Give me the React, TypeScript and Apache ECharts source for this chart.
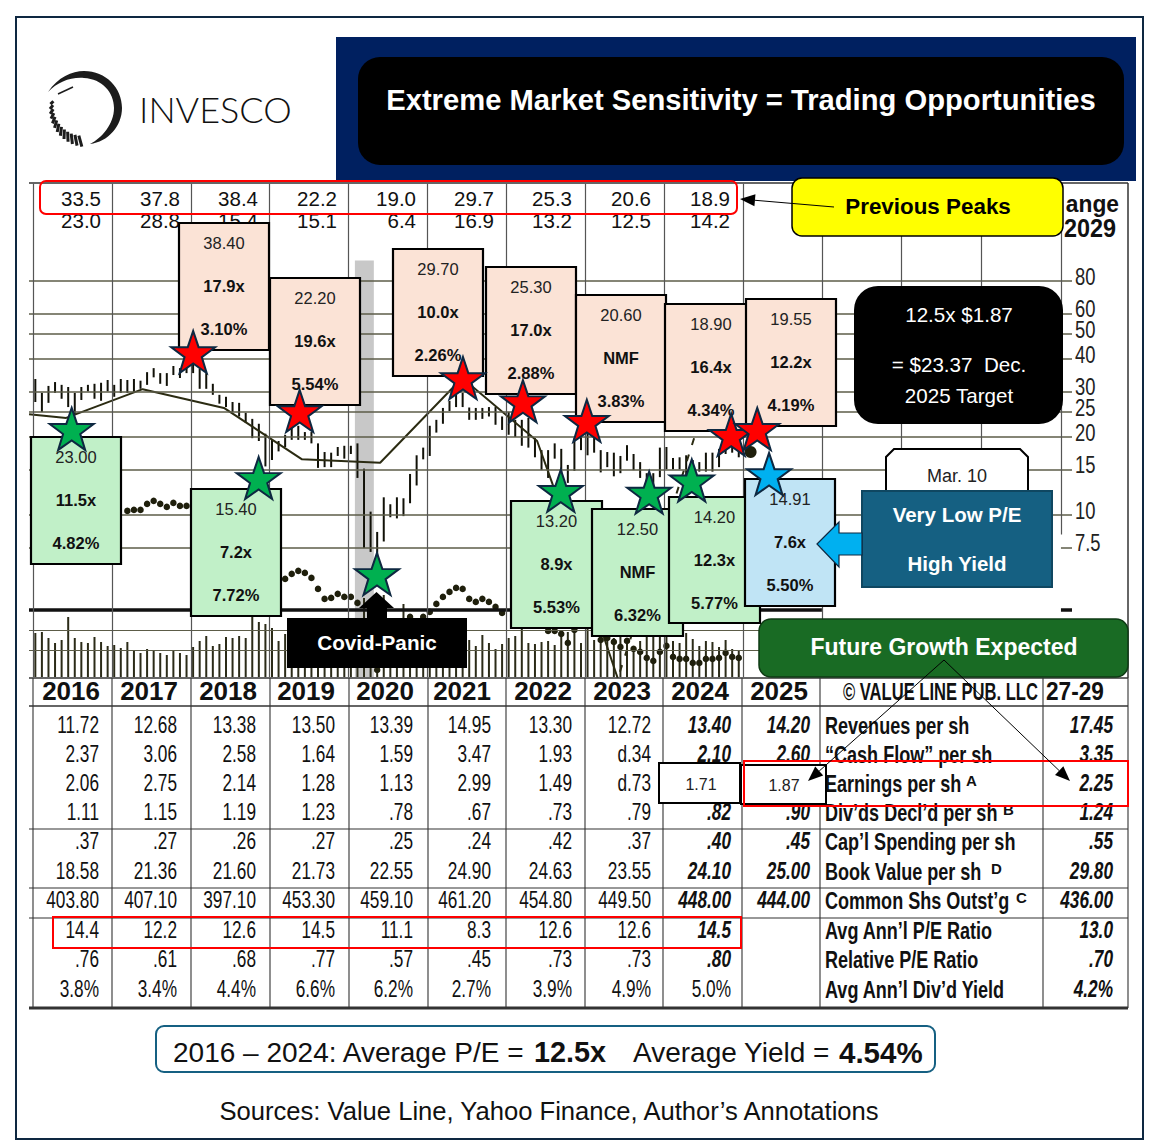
import React, { useEffect, useRef } from "react";
import * as echarts from "echarts";

// ---------- chart data ----------
const peakHighs = ["33.5", "37.8", "38.4", "22.2", "19.0", "29.7", "25.3", "20.6", "18.9"];
const peakLows = ["23.0", "28.8", "15.4", "15.1", "6.4", "16.9", "13.2", "12.5", "14.2"];
const axisLevels = [80, 60, 50, 40, 30, 25, 20, 15, 10];
const axisTickLabels = ["80", "60", "50", "40", "30", "25", "20", "15", "10", "7.5"];

// monthly high / low bars, Jan 2016 onward
const priceHigh = [
  33.5, 29.6, 31.5, 32.6, 31.8, 31.2, 29.6, 31.2, 31.8, 32.1, 32.4, 33.2,
  31.8, 33.5, 33.2, 33.5, 33, 35.6, 36.9, 35.3, 35.3, 37.6, 36.9, 38.3,
  38.6, 36.7, 35.3, 32.1, 29.1, 28.6, 27.3, 27.1, 24.8, 23.5, 22.5, 20.6,
  19.5, 19.3, 20.4, 22.1, 22.1, 20.9, 20.9, 18.9, 17.5, 17.4, 18.3, 18.5,
  18.5, 18.9, 15.1, 10.3, 8.6, 11.7, 11, 11.7, 11.6, 14.4, 17, 18.2,
  22.1, 23.3, 25.9, 27.6, 29.1, 29.6, 26, 25.9, 25.9, 26.1, 26.1, 24,
  25, 23.3, 23.3, 23.7, 19.8, 17.8, 17.8, 18.9, 18, 15.6, 19.8, 20.2,
  20.8, 20.4, 17.8, 17.5, 17.4, 16.9, 18.6, 17.2, 16, 14.5, 14.5, 18.2,
  18.3, 16.6, 16.7, 17, 16.3, 16, 17.4, 17.4, 18, 18.2, 18.3, 17.8,
];
const priceLow = [
  27.3, 25, 27.1, 29.6, 28.1, 26.1, 24.3, 27.8, 30, 28.1, 27.6, 30,
  28.6, 29.6, 29.6, 29.6, 30.7, 31.8, 34, 32.1, 31.5, 34.7, 33.8, 35.3,
  35.3, 30.7, 30.7, 29.1, 26.9, 26.1, 25, 24, 22.7, 19.8, 19.3, 15.4,
  16.3, 17.6, 18.3, 19.5, 19.5, 19.5, 18.9, 15.2, 15.3, 15.3, 16.9, 16.5,
  17.2, 13.9, 7.45, 7.2, 6.4, 7.9, 9.8, 9.7, 9.9, 11.1, 13, 16.4,
  16.9, 20.8, 22.5, 25.2, 26.1, 26.1, 23.3, 23.3, 23.5, 24, 22.3, 21.3,
  20.4, 20, 18.5, 18.2, 16.7, 14.9, 13.9, 16.5, 13.9, 13.3, 14.8, 17.8,
  17, 17.4, 14.6, 15.3, 14.1, 14.5, 16.2, 14.9, 13.9, 12.8, 12.5, 14,
  15, 15, 15, 14, 14.5, 14.7, 14.7, 14.7, 15.3, 17.2, 17.4, 16.7,
];
const volumePct = [
  8.8, 9, 7.8, 6.8, 7.4, 12, 7.8, 7, 6.8, 8, 7, 6.2,
  6.4, 5.8, 7, 5.2, 4.8, 5.6, 5.2, 4.8, 4.4, 5.4, 4.8, 4.4,
  6, 7.2, 8.2, 6.2, 6.6, 8, 7.8, 8.2, 7.8, 12, 11, 10.6,
  9.8, 7.2, 8.6, 8, 7.5, 7, 7.5, 8, 7, 7.5, 7, 6.5,
  7, 8, 15.8, 12, 10, 16.4, 9, 9, 14.6, 11.4, 8.4, 11.8,
  8, 8.5, 7.5, 7, 7.5, 7, 7.4, 6.2, 8.4, 6.8, 5.6, 6.6,
  7.8, 8.2, 9.8, 6.8, 6.6, 7, 7.2, 6.4, 8.6, 9, 9.4, 6.8,
  10.4, 7.4, 7.8, 8, 7.8, 8, 7.8, 6.2, 7.2, 8.2, 8, 8.4,
  8.4, 7.2, 6.8, 8.8, 7.6, 6.2, 7.2, 7, 6, 7.4, 5.6, 5.4,
];
// relative price strength: [month index, index level]
const relStrength = [
  [14, 166], [15, 167], [16, 167], [17, 173], [18, 176], [19, 173], [20, 170], [21, 174], [22, 171], [23, 171],
  [38, 98], [39, 103], [40, 106], [41, 104], [42, 99], [43, 88], [44, 78], [45, 79], [46, 83], [47, 80], [48, 80], [49, 74],
  [52, 7], [57, 60], [59, 60], [60, 65], [61, 73], [62, 80], [63, 85], [64, 89], [65, 88], [66, 78], [67, 75], [68, 78], [69, 75], [70, 70], [71, 64],
  [78, 46], [79, 46], [80, 43], [81, 34], [82, 47],
  [86, 37], [87, 39], [88, 35], [89, 30], [90, 36], [91, 28], [92, 25], [93, 19], [94, 16], [95, 25], [96, 31], [97, 20], [98, 18], [99, 18],
  [100, 14], [101, 14], [102, 18], [103, 18], [104, 19], [105, 24], [106, 20], [107, 19],
];
const valueLine = [
  [2015.95, 24.5], [2016.42, 23.7], [2017.39, 30.6], [2018.42, 25.9], [2019.41, 16.4], [2020.4, 15.9],
  [2021.44, 33.8], [2022.39, 19.3], [2022.58, 13.3], [2023.42, 2.3],
];
const valueLineProjected = [[2023.44, 2.48], [2024.38, 19.8]];
const currentPrice = [[2025.096, 17.5]];
const redStars = [[2018.03, 42.6], [2019.38, 25.2], [2021.45, 33.8], [2022.21, 27.5], [2023.02, 23.1], [2024.85, 20.4], [2025.18, 21.5]];
const greenStars = [[2016.49, 21.5], [2018.86, 13.9], [2020.36, 5.92], [2022.69, 12.4], [2023.81, 12.2], [2024.35, 13.6]];
const blueStars = [[2025.33, 14.4]];

// ---------- annotation boxes ----------
const boxPrices = ["23.00", "38.40", "15.40", "22.20", "29.70", "25.30", "13.20", "20.60", "12.50", "18.90", "19.55", "14.20", "14.91"];
const boxMultiples = ["11.5x", "17.9x", "7.2x", "19.6x", "10.0x", "17.0x", "8.9x", "NMF", "NMF", "16.4x", "12.2x", "12.3x", "7.6x"];
const boxYields = ["4.82%", "3.10%", "7.72%", "5.54%", "2.26%", "2.88%", "5.53%", "3.83%", "6.32%", "4.34%", "4.19%", "5.77%", "5.50%"];
const boxKinds = ["g", "p", "g", "p", "p", "p", "g", "p", "g", "p", "p", "g", "b"];

// ---------- table ----------
const years = ["2016", "2017", "2018", "2019", "2020", "2021", "2022", "2023", "2024", "2025"];
const revenues = ["11.72", "12.68", "13.38", "13.50", "13.39", "14.95", "13.30", "12.72", "13.40", "14.20", "17.45"];
const cashFlow = ["2.37", "3.06", "2.58", "1.64", "1.59", "3.47", "1.93", "d.34", "2.10", "2.60", "3.35"];
const earnings = ["2.06", "2.75", "2.14", "1.28", "1.13", "2.99", "1.49", "d.73", "", "", "2.25"];
const dividends = ["1.11", "1.15", "1.19", "1.23", ".78", ".67", ".73", ".79", ".82", ".90", "1.24"];
const capSpending = [".37", ".27", ".26", ".27", ".25", ".24", ".42", ".37", ".40", ".45", ".55"];
const bookValue = ["18.58", "21.36", "21.60", "21.73", "22.55", "24.90", "24.63", "23.55", "24.10", "25.00", "29.80"];
const shares = ["403.80", "407.10", "397.10", "453.30", "459.10", "461.20", "454.80", "449.50", "448.00", "444.00", "436.00"];
const avgPE = ["14.4", "12.2", "12.6", "14.5", "11.1", "8.3", "12.6", "12.6", "14.5", "", "13.0"];
const relPE = [".76", ".61", ".68", ".77", ".57", ".45", ".73", ".73", ".80", "", ".70"];
const divYield = ["3.8%", "3.4%", "4.4%", "6.6%", "6.2%", "2.7%", "3.9%", "4.9%", "5.0%", "", "4.2%"];
const rowLabels = ["Revenues per sh", "“Cash Flow” per sh", "Earnings per sh", "Div’ds Decl’d per sh", "Cap’l Spending per sh", "Book Value per sh", "Common Shs Outst’g", "Avg Ann’l P/E Ratio", "Relative P/E Ratio", "Avg Ann’l Div’d Yield"];
const rowNotes = ["", "", "A", "B", "", "D", "C", "", "", ""];

// ---------- layout ----------
const SANS = '"Liberation Sans", Arial, sans-serif';
const peakRight = [101, 180, 258, 337, 416, 494, 572, 651, 730];
const boxRects = [
  [31, 437, 121, 564], [179, 223, 269, 350], [191, 489, 281, 616], [270, 278, 360, 405], [393, 249, 483, 376], [486, 267, 576, 394],
  [511, 501, 602, 628], [576, 295, 666, 422], [592, 509, 683, 636], [665, 304, 757, 431], [746, 299, 836, 426], [669, 497, 760, 623], [745, 479, 835, 606],
];
const boxFill: any = { g: "#C1F0C8", p: "#FBE3D6", b: "#C0E4F5" };
const colRight = [99, 177, 256, 335, 413, 491, 572, 651, 731, 810];
const yearRight = [100, 178, 257, 335, 414, 491, 572, 651, 729, 808];
const tableLinesX = [33, 112, 191, 270, 349, 428, 506, 585, 663, 742, 820, 1043, 1128];
const rowY = [725.5, 754.5, 783.5, 812.5, 841.5, 871.5, 900.5, 930.5, 959.5, 989.5];
const noteX = [0, 0, 966, 1003, 0, 991, 1016, 0, 0, 0];
const axisLabelY = [277, 309, 330, 355, 387, 408, 433, 465, 511, 543];

const STAR = "path://M50 0L61.8 35.1L98 35.1L68.8 56.7L79.4 91L50 70.5L20.6 91L31.2 56.7L2 35.1L38.2 35.1Z";
const monthX = (i: number) => 2016 + (i + 0.35) / 12;

echarts.graphic.registerShape(
  "invescoSwoosh",
  echarts.graphic.extendPath(
    "M48 92C58 77 72 71 84 71C106 71 122 88 122 108C122 126 108 142 90 144C102 138 114 124 114 108C114 92 102 79 84 78C70 77 58 82 48 92Z",
    {}
  ) as any
);

function text(s: string, x: number, y: number, font: string, fill = "#111", align = "center", z = 10, scaleX = 1) {
  return { type: "text", x, y, z, scaleX, silent: true, style: { text: s, font, fill, textAlign: align, textVerticalAlign: "middle" } };
}
function rect(x0: number, y0: number, x1: number, y1: number, fill: any, stroke: any, lineWidth = 2, r = 0, z = 10) {
  return { type: "rect", z, silent: true, shape: { x: x0, y: y0, width: x1 - x0, height: y1 - y0, r }, style: { fill, stroke, lineWidth } };
}
function line(x1: number, y1: number, x2: number, y2: number, stroke = "#444", lineWidth = 1, z = 6) {
  return { type: "line", z, silent: true, shape: { x1, y1, x2, y2 }, style: { stroke, lineWidth } };
}
function arrow(x1: number, y1: number, x2: number, y2: number, z = 32) {
  const a = Math.atan2(y2 - y1, x2 - x1);
  const L = 15, W = 6;
  const bx = x2 - L * Math.cos(a), by = y2 - L * Math.sin(a);
  const px = -Math.sin(a) * W, py = Math.cos(a) * W;
  return [
    line(x1, y1, bx, by, "#000", 1, z),
    { type: "polygon", z, silent: true, shape: { points: [[x2, y2], [bx + px, by + py], [bx - px, by - py]] }, style: { fill: "#000" } },
  ];
}

function buildGraphics() {
  const g: any[] = [];
  // frame & header
  g.push(rect(16, 17, 1143, 1139, "none", "#0E2841", 2, 0, 40));
  g.push(rect(336, 37, 1136, 181, "#002060", "none", 0, 0, 9));
  g.push(rect(358, 57, 1124, 165, "#000", "none", 0, 22, 9));
  g.push(text("Extreme Market Sensitivity = Trading Opportunities", 741, 100, `bold 29.2px ${SANS}`, "#fff", "center", 9));

  // logo
  g.push({ type: "invescoSwoosh", x: 0, y: 0, z: 9, silent: true, style: { fill: "#1c1c1c" } });
  for (let k = 0; k < 13; k++) {
    const t = ((98 + k * 7.6) * Math.PI) / 180;
    const cx = 84, cy = 108;
    g.push(line(cx + 30 * Math.cos(t) - 1, cy + 30 * Math.sin(t) - 2, cx + 37 * Math.cos(t) + 3, cy + 37 * Math.sin(t) + 2, "#1c1c1c", 3, 9));
  }
  g.push(line(58, 94, 73, 87, "#1c1c1c", 1.5, 9));
  g.push(text("INVESCO", 139, 109, `300 36px Lato, ${SANS}`, "#111", "left", 9));

  // chart frame
  g.push(line(29, 183, 1128, 183, "#333", 1.5, 3));
  g.push(line(1128, 183, 1128, 678, "#333", 1.5, 3));
  peakHighs.forEach((s, i) => g.push(text(s, peakRight[i], 198.5, `20.5px ${SANS}`, "#111", "right", 4)));
  peakLows.forEach((s, i) => g.push(text(s, peakRight[i], 220.5, `20.5px ${SANS}`, "#111", "right", 4)));
  g.push(text("ange", 1119, 204, `bold 24px ${SANS}`, "#111", "right", 4, 0.95));
  g.push(text("2029", 1116, 228, `bold 26px ${SANS}`, "#111", "right", 4, 0.9));
  axisTickLabels.forEach((s, i) => g.push(text(s, 1075, axisLabelY[i], `23px ${SANS}`, "#222", "left", 4, 0.8)));

  // value boxes
  boxRects.forEach((b, i) => {
    g.push(rect(b[0], b[1], b[2], b[3], boxFill[boxKinds[i]], "#000", 2.2));
    const cx = (b[0] + b[2]) / 2;
    g.push(text(boxPrices[i], cx, b[1] + 20, `16.5px ${SANS}`, "#222"));
    g.push(text(boxMultiples[i], cx, b[1] + 63, `bold 16.5px ${SANS}`));
    g.push(text(boxYields[i], cx, b[1] + 106, `bold 16.5px ${SANS}`));
  });

  // covid
  g.push({ type: "polygon", z: 15, silent: true, shape: { points: [[376.5, 592], [359, 608], [367, 608], [367, 620], [387, 620], [387, 608], [394, 608]] }, style: { fill: "#000" } });
  g.push(rect(287, 618, 467, 668, "#000", "none", 0, 0, 15));
  g.push(text("Covid-Panic", 377, 642, `bold 20.7px ${SANS}`, "#fff", "center", 15));

  // target box
  g.push(rect(854, 286, 1063, 424, "#000", "none", 0, 24, 15));
  g.push(text("12.5x $1.87", 959, 314.5, `20.6px ${SANS}`, "#fff", "center", 15));
  g.push(text("= $23.37  Dec.", 959, 364.5, `20.6px ${SANS}`, "#fff", "center", 15));
  g.push(text("2025 Target", 959, 395.5, `20.6px ${SANS}`, "#fff", "center", 15));

  // mar 10 / low P/E
  g.push({ type: "polygon", z: 15, silent: true, shape: { points: [[894, 449], [1020, 449], [1028, 457], [1028, 492], [886, 492], [886, 457]] }, style: { fill: "#fff", stroke: "#000", lineWidth: 2 } });
  g.push(text("Mar. 10", 957, 476, `18px ${SANS}`, "#222", "center", 15));
  g.push(rect(862, 491, 1052, 587, "#156082", "#0F4761", 2, 0, 15));
  g.push(text("Very Low P/E", 957, 514, `bold 20.5px ${SANS}`, "#fff", "center", 15));
  g.push(text("High Yield", 957, 563, `bold 20.5px ${SANS}`, "#fff", "center", 15));
  g.push({ type: "polygon", z: 15, silent: true, shape: { points: [[817, 544], [839, 522], [839, 533], [862, 533], [862, 555], [839, 555], [839, 567]] }, style: { fill: "#00B0F0", stroke: "#0E2841", lineWidth: 1.2 } });

  // table background
  g.push(rect(17, 678, 1142, 1010, "#fff", "none", 0, 0, 5));
  tableLinesX.forEach((x) => g.push(line(x, 678, x, 1008, "#444", 1.2)));
  [[678, 1.5], [706, 1.5], [829, 1.2], [888, 1.2], [918, 1.2], [1008, 3]].forEach(([y, w]) => g.push(line(29, y, 1128, y, "#333", w)));
  years.forEach((s, i) => g.push(text(s, yearRight[i], 691, `bold 26px ${SANS}`, "#111", "right", 7)));
  g.push(text("© VALUE LINE PUB. LLC", 843, 691, `bold 24px ${SANS}`, "#111", "left", 7, 0.69));
  g.push(text("27-29", 1046, 691, `bold 26px ${SANS}`, "#111", "left", 7, 0.87));

  const rows = [revenues, cashFlow, earnings, dividends, capSpending, bookValue, shares, avgPE, relPE, divYield];
  rows.forEach((row, r) => {
    row.forEach((s, c) => {
      if (!s) return;
      const strong = c === 10 || c === 9 || (c === 8 && r !== 9);
      const x = c === 10 ? 1113 : colRight[c];
      g.push(text(s, x, rowY[r], `${strong ? "italic bold " : ""}23px ${SANS}`, "#111", "right", 7, 0.75));
    });
    g.push(text(rowLabels[r], 825, rowY[r], `bold 23px ${SANS}`, "#111", "left", 7, 0.785));
    if (rowNotes[r]) g.push(text(rowNotes[r], noteX[r], rowY[r] - 3, `bold 15px ${SANS}`, "#111", "left", 7));
  });

  // eps overlays
  g.push(rect(659, 763, 740, 803, "#fff", "#000", 2, 0, 28));
  g.push(text("1.71", 701, 784, `16px ${SANS}`, "#222", "center", 28));
  g.push(rect(741, 765, 826, 804, "#fff", "#000", 2, 0, 28));
  g.push(text("1.87", 784, 785, `16px ${SANS}`, "#222", "center", 28));

  // red outlines
  g.push(rect(40, 181, 737, 214, "none", "#F00", 2, 6, 30));
  g.push(rect(53, 917, 741, 948, "none", "#F00", 2, 0, 30));
  g.push(rect(744, 761, 1128, 806, "none", "#F00", 2, 0, 30));

  // previous peaks
  g.push(rect(792, 178, 1063, 236, "#FFFF00", "#000", 1.5, 10, 25));
  g.push(text("Previous Peaks", 928, 206, `bold 22.4px ${SANS}`, "#000", "center", 25));
  g.push(...arrow(834, 207, 740, 199));

  // future growth
  g.push(rect(759, 619, 1128, 677, "#196B24", "#0E3A14", 1.5, 12, 25));
  g.push(text("Future Growth Expected", 944, 647, `bold 23px ${SANS}`, "#fff", "center", 25));
  g.push(...arrow(944, 660, 808, 781));
  g.push(...arrow(944, 660, 1070, 781));

  // footer
  g.push(rect(156, 1026, 935, 1072, "#fff", "#156082", 2, 8, 10));
  g.push(text("2016 – 2024: Average P/E =", 173, 1052, `28px ${SANS}`, "#111", "left"));
  g.push(text("12.5x", 534, 1052, `bold 28.8px ${SANS}`, "#111", "left"));
  g.push(text("Average Yield =", 633, 1052, `28px ${SANS}`, "#111", "left"));
  g.push(text("4.54%", 839, 1052, `bold 29.5px ${SANS}`, "#111", "left"));
  g.push(text("Sources: Value Line, Yahoo Finance, Author’s Annotations", 549, 1111, `25.6px ${SANS}`, "#111"));
  return g;
}

function buildOption() {
  const xBase = { type: "value", min: 2015.949, max: 2029.17, show: false, splitLine: { show: false } };
  const gl = (a: number[], b: number[], width = 1.4, color = "#5c5c48") => [
    { coord: a, lineStyle: { width, color, type: "solid" } },
    { coord: b },
  ];
  const xEnd = 2029.17;
  const markData: any[] = [];
  axisLevels.forEach((v) => markData.push(gl([2015.949, v], [xEnd, v], 1.5)));
  markData.push(gl([2015.949, 7.5], [2027, 7.5], 1.5));
  markData.push(gl([2029.03, 7.5], [xEnd, 7.5], 1.5));
  // lower-panel rules
  markData.push(gl([2015.949, 4.3], [2026, 4.3], 3.5, "#111"));
  markData.push(gl([2029.03, 4.3], [xEnd, 4.3], 3.5, "#111"));
  markData.push(gl([2015.949, 3.6], [2026, 3.6], 1.2));
  markData.push(gl([2015.949, 3.01], [2026, 3.01], 1.2));
  // vertical year rules
  for (let y = 2016; y <= 2026; y++) markData.push(gl([y, 190], [y, 2.37], 1.2, "#555"));
  markData.push(gl([2027, 190], [2027, 6.7], 1.2, "#555"));
  markData.push(gl([2028.02, 190], [2028.02, 6.7], 1.2, "#555"));
  markData.push(gl([2029.03, 190], [2029.03, 8.4], 1.2, "#555"));

  return {
    animation: false,
    backgroundColor: "#fff",
    grid: [
      { left: 29, top: 183.8, width: 1043, height: 493.1 },
      { left: 29, top: 590, width: 1043, height: 87 },
    ],
    xAxis: [{ ...xBase, gridIndex: 0 }, { ...xBase, gridIndex: 1 }],
    yAxis: [
      { type: "log", logBase: 10, min: 2.37, max: 190, gridIndex: 0, show: false, splitLine: { show: false } },
      { type: "value", min: 0, max: 493.1, gridIndex: 0, show: false, splitLine: { show: false } },
      { type: "value", min: 0, max: 17.4, gridIndex: 1, show: false, splitLine: { show: false } },
    ],
    graphic: { elements: buildGraphics() },
    series: [
      {
        name: "rules",
        type: "line",
        data: [],
        z: 1,
        clip: false,
        markLine: { silent: true, symbol: "none", animation: false, label: { show: false }, emphasis: { disabled: true }, data: markData },
      },
      {
        name: "recession",
        type: "line",
        data: [],
        z: 1,
        markArea: { silent: true, itemStyle: { color: "#C8C8C8", opacity: 1 }, data: [[{ coord: [2020.08, 96] }, { coord: [2020.32, 2.37] }]] },
      },
      {
        name: "volume",
        type: "bar",
        xAxisIndex: 1,
        yAxisIndex: 2,
        barWidth: 2,
        z: 2,
        itemStyle: { color: "#2b2b18" },
        data: volumePct.map((v, i) => [monthX(i), v]),
      },
      {
        name: "price",
        type: "custom",
        z: 2,
        xAxisIndex: 0,
        yAxisIndex: 0,
        encode: { x: 0, y: [1, 2] },
        data: priceHigh.map((h, i) => [monthX(i), priceLow[i], h]),
        renderItem: (_: any, api: any) => {
          const a = api.coord([api.value(0), api.value(1)]);
          const b = api.coord([api.value(0), api.value(2)]);
          return { type: "line", shape: { x1: a[0], y1: a[1], x2: b[0], y2: b[1] }, style: { stroke: "#111108", lineWidth: 2 } };
        },
      },
      {
        name: "value line",
        type: "line",
        z: 3,
        symbol: "none",
        lineStyle: { color: "#2b2b12", width: 2 },
        data: valueLine,
      },
      {
        name: "projected",
        type: "line",
        z: 3,
        symbol: "none",
        lineStyle: { color: "#2b2b12", width: 2, type: [7, 10] },
        data: valueLineProjected,
      },
      {
        name: "relative strength",
        type: "scatter",
        yAxisIndex: 1,
        z: 3,
        symbolSize: 6.5,
        itemStyle: { color: "#1f1f0c", opacity: 1 },
        data: relStrength.map(([i, v]) => [monthX(i), v]),
      },
      { name: "current", type: "scatter", z: 20, symbolSize: 12, itemStyle: { color: "#1f1f0c", opacity: 1 }, data: currentPrice },
      ...[
        ["peaks", redStars, "#FF0000"],
        ["troughs", greenStars, "#00B050"],
        ["now", blueStars, "#00B0F0"],
      ].map(([name, data, color]) => ({
        name,
        type: "scatter",
        z: 21,
        symbol: STAR,
        symbolSize: [44, 42],
        itemStyle: { color, borderColor: "#0E2841", borderWidth: 2, opacity: 1 },
        data,
      })),
    ],
  };
}

export default function App() {
  const ref = useRef<HTMLDivElement>(null);
  useEffect(() => {
    document.body.style.margin = "0";
    document.body.style.background = "#fff";
    const chart = echarts.init(ref.current!, undefined, { renderer: "svg" });
    chart.setOption(buildOption() as any);
    return () => chart.dispose();
  }, []);
  return <div ref={ref} style={{ position: "absolute", left: 0, top: 0, width: 1153, height: 1146 }} />;
}
